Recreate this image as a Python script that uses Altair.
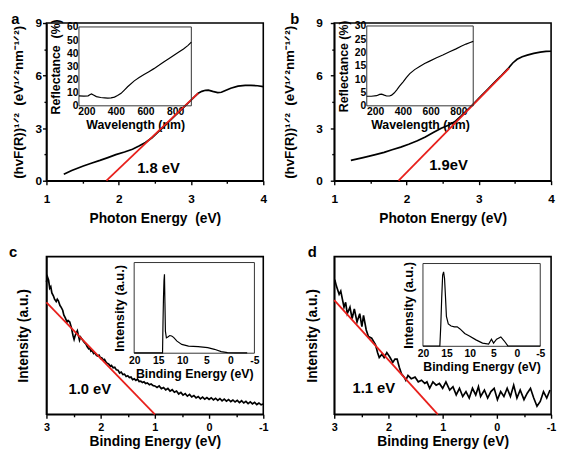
import altair as alt
import pandas as pd

FONT = "Liberation Sans"
RED = "#e8201c"
W, H = 220, 160

# ---------------- data ----------------
# panel a : Kubelka-Munk plot
a_E = [1.24, 1.35, 1.51, 1.62, 1.74, 1.85, 1.96, 2.08, 2.19, 2.28,
       2.37, 2.46, 2.55, 2.65, 2.74, 2.83, 2.92, 2.99, 3.05, 3.10,
       3.15, 3.20, 3.24, 3.30, 3.37, 3.42, 3.46, 3.55, 3.65, 3.75,
       3.83, 3.92, 4.00]
a_Y = [0.37, 0.58, 0.84, 1.00, 1.16, 1.32, 1.49, 1.64, 1.80, 1.98,
       2.18, 2.45, 2.80, 3.19, 3.55, 3.91, 4.27, 4.55, 4.80, 4.99,
       5.10, 5.16, 5.17, 5.10, 5.03, 5.05, 5.12, 5.28, 5.40, 5.44,
       5.44, 5.42, 5.37]
a_fit_E = [1.83, 3.10]
a_fit_Y = [0.0, 5.0]
a_label = ["1.8 eV"]
a_label_E = [2.55]
a_label_Y = [0.75]
a_in_wl = [150, 183, 212, 226, 235, 248, 268, 297, 324, 345,
           367, 390, 411, 435, 457, 479, 524, 557, 590, 623,
           657, 691, 723, 757, 790, 823, 857, 888, 910]
a_in_R = [7.5, 7.4, 7.6, 8.6, 9.0, 8.2, 7.0, 6.3, 6.0, 5.8,
          6.0, 6.6, 7.8, 9.5, 12.0, 14.5, 19.0, 21.5, 23.8, 26.0,
          28.3, 30.8, 33.3, 35.8, 38.3, 40.8, 43.3, 46.0, 48.5]

# panel b
b_E = [1.23, 1.40, 1.57, 1.69, 1.80, 1.92, 2.03, 2.15, 2.26, 2.37,
       2.48, 2.58, 2.67, 2.76, 2.85, 2.94, 3.03, 3.12, 3.21, 3.30,
       3.40, 3.47, 3.53, 3.60, 3.67, 3.76, 3.85, 3.93, 4.00]
b_Y = [1.16, 1.32, 1.49, 1.62, 1.77, 1.92, 2.08, 2.28, 2.50, 2.75,
       3.00, 3.17, 3.38, 3.72, 4.08, 4.45, 4.83, 5.20, 5.58, 5.95,
       6.38, 6.72, 6.93, 7.08, 7.17, 7.27, 7.34, 7.38, 7.39]
b_fit_E = [1.89, 3.42]
b_fit_Y = [0.0, 6.43]
b_label = ["1.9eV"]
b_label_E = [2.58]
b_label_Y = [0.9]
b_in_wl = [140, 173, 211, 233, 247, 266, 283, 304, 319, 337,
           355, 376, 402, 425, 450, 485, 521, 557, 593, 639,
           688, 737, 783, 820, 855, 885, 907]
b_in_R = [3.6, 3.6, 3.8, 4.3, 4.4, 4.0, 3.7, 3.7, 4.0, 4.8,
          5.9, 7.4, 9.0, 10.6, 12.1, 13.6, 14.8, 15.9, 16.8, 18.0,
          19.1, 20.3, 21.4, 22.4, 23.2, 23.8, 24.2]

# panel c : UPS valence band edge
c_E = [3.00, 2.98, 2.96, 2.94, 2.92, 2.90, 2.87, 2.85, 2.82, 2.80,
       2.78, 2.75, 2.73, 2.70, 2.68, 2.65, 2.62, 2.60, 2.57, 2.54,
       2.51, 2.49, 2.47, 2.45, 2.43, 2.41, 2.39, 2.37, 2.35, 2.32,
       2.30, 2.27, 2.25, 2.22, 2.20, 2.18, 2.16, 2.13, 2.11, 2.08,
       2.06, 2.03, 2.00, 1.98, 1.95, 1.93, 1.90, 1.88, 1.85, 1.82,
       1.80, 1.77, 1.74, 1.71, 1.68, 1.65, 1.62, 1.59, 1.56, 1.53,
       1.50, 1.47, 1.44, 1.41, 1.38, 1.35, 1.32, 1.29, 1.26, 1.23,
       1.20, 1.17, 1.14, 1.10, 1.07, 1.03, 1.00, 0.96, 0.92, 0.88,
       0.84, 0.80, 0.76, 0.72, 0.68, 0.64, 0.60, 0.56, 0.52, 0.48,
       0.44, 0.40, 0.36, 0.32, 0.28, 0.24, 0.20, 0.16, 0.12, 0.08,
       0.04, 0.00, -0.04, -0.08, -0.12, -0.16, -0.20, -0.24, -0.28, -0.32,
       -0.36, -0.40, -0.44, -0.48, -0.52, -0.56, -0.60, -0.64, -0.68, -0.72,
       -0.76, -0.80, -0.84, -0.88, -0.92, -0.96, -1.00]
c_I = [84.0, 87.0, 85.0, 80.0, 81.0, 77.0, 75.0, 73.0, 71.5, 73.0,
       72.0, 69.0, 68.0, 66.0, 63.0, 61.0, 58.5, 59.5, 58.5, 55.0,
       50.0, 47.5, 50.0, 51.5, 53.0, 50.0, 47.0, 49.0, 48.0, 46.5,
       45.5, 44.5, 43.0, 41.5, 42.0, 40.0, 40.5, 38.5, 39.0, 37.5,
       37.0, 37.5, 35.5, 35.8, 34.5, 34.8, 33.0, 32.5, 31.8, 30.5,
       31.0, 29.5, 29.8, 28.2, 28.0, 26.2, 26.8, 25.2, 25.5, 24.0,
       24.5, 23.3, 23.6, 22.0, 22.5, 21.5, 22.4, 20.8, 21.0, 20.1,
       20.6, 19.5, 19.9, 18.8, 19.2, 18.2, 18.0, 17.0, 18.0, 16.2,
       17.0, 15.5, 16.4, 14.7, 15.6, 14.0, 14.8, 12.9, 13.9, 12.2,
       13.1, 11.5, 12.6, 11.0, 11.9, 10.4, 11.3, 9.8, 10.9, 9.6,
       10.6, 9.4, 10.5, 9.2, 10.2, 8.8, 10.0, 8.5, 9.6, 8.4,
       9.4, 8.1, 9.1, 7.8, 8.8, 7.4, 8.6, 7.2, 8.2, 6.8,
       7.9, 6.6, 7.6, 6.2, 7.2, 6.0, 6.5]
c_fit_E = [3.0, 1.0]
c_fit_I = [71.0, 0.0]
c_label = ["1.0 eV"]
c_label_E = [2.2]
c_label_I = [16.0]
c_in_E = [20, 14.1, 14.0, 13.9, 13.8, 13.7, 13.6, 13.5, 13.3, 13.0,
          12.6, 12.2, 11.8, 11.1, 10.1, 8.7, 6.7, 4.7, 3.3, 1.9,
          0.6, -1.0, -3.5]
c_in_I = [0.4, 0.4, 35, 62, 80, 87, 55, 24, 17, 18,
          19.5, 19, 17.5, 13.3, 9.7, 7.9, 7.2, 6.1, 4.3, 1.8,
          0.7, 0.4, 0.4]

# panel d
d_E = [2.99, 2.96, 2.91, 2.88, 2.85, 2.82, 2.79, 2.76, 2.71, 2.67,
       2.63, 2.58, 2.53, 2.49, 2.46, 2.41, 2.37, 2.31, 2.24, 2.20,
       2.17, 2.12, 2.08, 2.03, 1.97, 1.92, 1.88, 1.84, 1.80, 1.76,
       1.71, 1.68, 1.64, 1.58, 1.51, 1.45, 1.39, 1.33, 1.29, 1.24,
       1.18, 1.12, 1.06, 1.00, 0.94, 0.87, 0.81, 0.75, 0.69, 0.63,
       0.57, 0.51, 0.45, 0.39, 0.34, 0.30, 0.23, 0.17, 0.11, 0.05,
       -0.01, -0.07, -0.13, -0.19, -0.25, -0.31, -0.37, -0.43, -0.50, -0.56,
       -0.62, -0.68, -0.74, -0.80, -0.86, -0.92, -0.98]
d_I = [85.4, 81.3, 76.1, 78.2, 73.0, 67.9, 71.0, 63.8, 67.9, 60.7,
       66.9, 58.6, 63.8, 55.6, 62.8, 53.5, 49.4, 48.3, 44.3, 39.1,
       36.0, 38.1, 36.0, 39.1, 36.0, 32.9, 35.0, 35.0, 29.8, 25.7,
       23.6, 21.6, 24.7, 22.6, 23.6, 20.6, 21.6, 19.6, 20.6, 16.5,
       20.6, 18.5, 19.6, 16.5, 20.6, 15.4, 17.5, 12.3, 16.5, 11.3,
       14.4, 10.3, 16.5, 12.3, 17.5, 11.3, 15.4, 10.3, 14.4, 16.5,
       9.3, 14.4, 11.3, 16.5, 11.3, 18.5, 10.3, 15.4, 9.3, 13.4,
       16.5, 10.3, 5.1, 8.2, 14.4, 10.3, 15.4]
d_fit_E = [3.0, 1.09]
d_fit_I = [72.4, 0.0]
d_label = ["1.1 eV"]
d_label_E = [2.27]
d_label_I = [16.5]
d_in_E = [20, 16.4, 16.2, 16.0, 15.8, 15.6, 15.4, 15.2, 15.0, 14.6,
          14.0, 13.3, 12.7, 12.1, 11.1, 10.1, 8.7, 7.3, 6.0, 5.4,
          4.95, 4.3, 3.4, 2.7, 1.9, 1.4, -5]
d_in_I = [0.4, 0.4, 25, 59, 86, 90, 82, 60, 36, 27,
          24.5, 23.5, 23.5, 21, 15.6, 12.5, 7.8, 3.9, 2.8, 8.6,
          3.9, 8.6, 11.3, 6.7, 0.5, 0.4, 0.4]

# tick values
km_x_ticks = [1, 2, 3, 4]
km_x_minor = [1.5, 2.5, 3.5]
km_y_ticks = [0, 3, 6, 9]
km_y_minor = [1.5, 4.5, 7.5]
be_x_ticks = [3, 2, 1, 0, -1]
be_x_minor = [2.5, 1.5, 0.5, -0.5]
wl_ticks = [200, 400, 600, 800]
a_in_y_ticks = [0, 10, 20, 30, 40, 50, 60]
b_in_y_ticks = [0, 5, 10, 15, 20, 25, 30]
be_in_ticks = [20, 15, 10, 5, 0, -5]

KM_Y_TITLE = "(hvF(R))\u00b9\u141f\u00b2\u00a0 (eV\u00b9\u141f\u00b2nm\u207b\u00b9\u141f\u00b2)"
LBL = "'' + datum.value"


def panel(letter, mE, mY, fE, fY, lab, labE, labY,
          xdom, xrev, xvals, xminor, xtitle, xlp, xtp,
          ydom, yvals, yminor, ytitle, ylp, ytp,
          iX, iY, ixdom, ixrng, ixvals, ixtitle,
          iydom, iyrng, iyvals, iytitle, iytp, tdx, toff, xlfs, ixlp, ixtp):
    main_df = pd.DataFrame({"E": mE, "v": mY})
    fit_df = pd.DataFrame({"E": fE, "v": fY})
    lab_df = pd.DataFrame({"E": labE, "v": labY, "t": lab})

    xs = alt.Scale(domain=xdom, nice=False, zero=False, reverse=xrev)
    ys = alt.Scale(domain=ydom, nice=False, zero=False)
    xa = alt.Axis(orient="bottom", values=xvals, title=xtitle, tickSize=4,
                  labelFontSize=xlfs, titleFontSize=14, labelPadding=xlp,
                  titlePadding=xtp, labelExpr=LBL)
    if yvals:
        ya = alt.Axis(orient="left", values=yvals, title=ytitle, tickSize=4,
                      labelFontSize=12, titleFontSize=13.5, labelPadding=ylp,
                      titlePadding=ytp)
    else:
        ya = alt.Axis(orient="left", title=ytitle, labels=False, ticks=False,
                      titleFontSize=14, titlePadding=ytp)
    X = alt.X("E:Q", scale=xs, axis=xa)
    Y = alt.Y("v:Q", scale=ys, axis=ya)
    line = alt.Chart(main_df).mark_line(color="black", strokeWidth=1.7).encode(x=X, y=Y)
    fitl = alt.Chart(fit_df).mark_line(color=RED, strokeWidth=1.8).encode(x=X, y=Y)
    txt = alt.Chart(lab_df).mark_text(font=FONT, fontWeight="bold", fontSize=15,
                                      color="black").encode(x=X, y=Y, text="t:N")
    main = alt.layer(line, fitl, txt)

    # minor ticks
    mx = alt.X("E:Q", scale=alt.Scale(domain=xdom, nice=False, zero=False, reverse=xrev),
               axis=alt.Axis(orient="bottom", values=xminor, labels=False, domain=False,
                             tickSize=2.5, title=None))
    if yminor:
        my = alt.Y("v:Q", scale=alt.Scale(domain=ydom, nice=False, zero=False),
                   axis=alt.Axis(orient="left", values=yminor, labels=False, domain=False,
                                 tickSize=2.5, title=None))
    else:
        my = alt.Y("v:Q", scale=alt.Scale(domain=ydom, nice=False, zero=False), axis=None)
    minor = alt.Chart(main_df).mark_line(opacity=0).encode(x=mx, y=my)

    # inset
    in_df = pd.DataFrame({"u": iX, "w": iY})
    box_df = pd.DataFrame({"u": [min(ixdom)], "u2": [max(ixdom)],
                           "w": [iydom[0]], "w2": [iydom[1]]})
    ixs = alt.Scale(domain=ixdom, range=ixrng, nice=False, zero=False)
    iys = alt.Scale(domain=iydom, range=iyrng, nice=False, zero=False)
    ixa = alt.Axis(orient="bottom", offset=iyrng[0] - H, values=ixvals, title=ixtitle,
                   domain=False, ticks=False, labelPadding=ixlp, titlePadding=ixtp,
                   labelFontSize=10.5, titleFontSize=12.5, labelExpr=LBL)
    if iyvals:
        iya = alt.Axis(orient="left", offset=-min(ixrng), values=iyvals, title=iytitle,
                       domain=False, ticks=False, labelPadding=1, titlePadding=iytp,
                       labelFontSize=10.5, titleFontSize=12.5)
    else:
        iya = alt.Axis(orient="left", offset=-min(ixrng), title=iytitle, labels=False,
                       domain=False, ticks=False, titlePadding=iytp, titleFontSize=13)
    IX = alt.X("u:Q", scale=ixs, axis=ixa)
    IY = alt.Y("w:Q", scale=iys, axis=iya)
    iline = alt.Chart(in_df).mark_line(color="black", strokeWidth=1.2).encode(x=IX, y=IY)
    ibox = alt.Chart(box_df).mark_rect(fillOpacity=0, stroke="#333333", strokeWidth=1).encode(
        x=IX, x2="u2:Q", y=IY, y2="w2:Q")
    inset = alt.layer(ibox, iline)

    return alt.layer(main, minor, inset).resolve_scale(
        x="independent", y="independent"
    ).properties(
        width=W, height=H,
        title=alt.TitleParams(letter, anchor="start", frame="bounds", font=FONT,
                              fontSize=15, fontWeight="bold", color="black",
                              dx=tdx, offset=toff),
    )


pa = panel("a", a_E, a_Y, a_fit_E, a_fit_Y, a_label, a_label_E, a_label_Y,
           [1, 4], False, km_x_ticks, km_x_minor, "Photon Energy\u00a0 (eV)", 9, 7,
           [0, 9], km_y_ticks, km_y_minor, KM_Y_TITLE, 1, 10,
           a_in_wl, a_in_R, [150, 910], [33, 147], wl_ticks, "Wavelength (nm)",
           [0, 60], [84, 4], a_in_y_ticks, "Reflectance\u00a0 (%)", 4, 0, -10, 12, 1, 2)

pb = panel("b", b_E, b_Y, b_fit_E, b_fit_Y, b_label, b_label_E, b_label_Y,
           [1, 4], False, km_x_ticks, km_x_minor, "Photon Energy (eV)", 9, 7,
           [0, 9], km_y_ticks, km_y_minor, KM_Y_TITLE, 8, 20,
           b_in_wl, b_in_R, [140, 907], [33, 141], wl_ticks, "Wavelength (nm)",
           [0, 30], [84, 3], b_in_y_ticks, "Reflectance (%)", 4, 8, -10, 12, 1, 2)

pc = panel("c", c_E, c_I, c_fit_E, c_fit_I, c_label, c_label_E, c_label_I,
           [-1, 3], True, be_x_ticks, be_x_minor, "Binding Energy (eV)", 3, 3,
           [0, 100], [], [], "Intensity (a.u.)", 0, 16,
           c_in_E, c_in_I, [-5, 20], [211, 89], be_in_ticks, "Binding Energy (eV)",
           [0, 100], [98, 6], [], "Intensity (a.u.)", 8, -8, -3, 11, 2, 2)

pd_ = panel("d", d_E, d_I, d_fit_E, d_fit_I, d_label, d_label_E, d_label_I,
            [-1, 3], True, be_x_ticks, be_x_minor, "Binding Energy (eV)", 3, 3,
            [0, 100], [], [], "Intensity (a.u.)", 0, 15,
            d_in_E, d_in_I, [-5, 20], [209, 90], be_in_ticks, "Binding Energy (eV)",
            [0, 100], [91, 7], [], "Intensity (a.u.)", 8, 2, -3, 11, 2, 2)

chart = alt.concat(
    pa, pb, pc, pd_, columns=2, spacing={"row": 77, "column": 72}, bounds="flush"
).properties(
    padding={"left": 0, "top": 0, "right": 0, "bottom": 0}
).configure_view(
    stroke="black", strokeWidth=1.6
).configure_axis(
    grid=False, domainColor="black", domainWidth=1.6, tickColor="black", tickWidth=1.4,
    labelFont=FONT, titleFont=FONT, labelFontWeight="bold", titleFontWeight="bold",
    labelColor="black", titleColor="black", labelFlush=False, labelOverlap=False
)

chart.save("out.html", embed_options={"renderer": "svg", "actions": False})
